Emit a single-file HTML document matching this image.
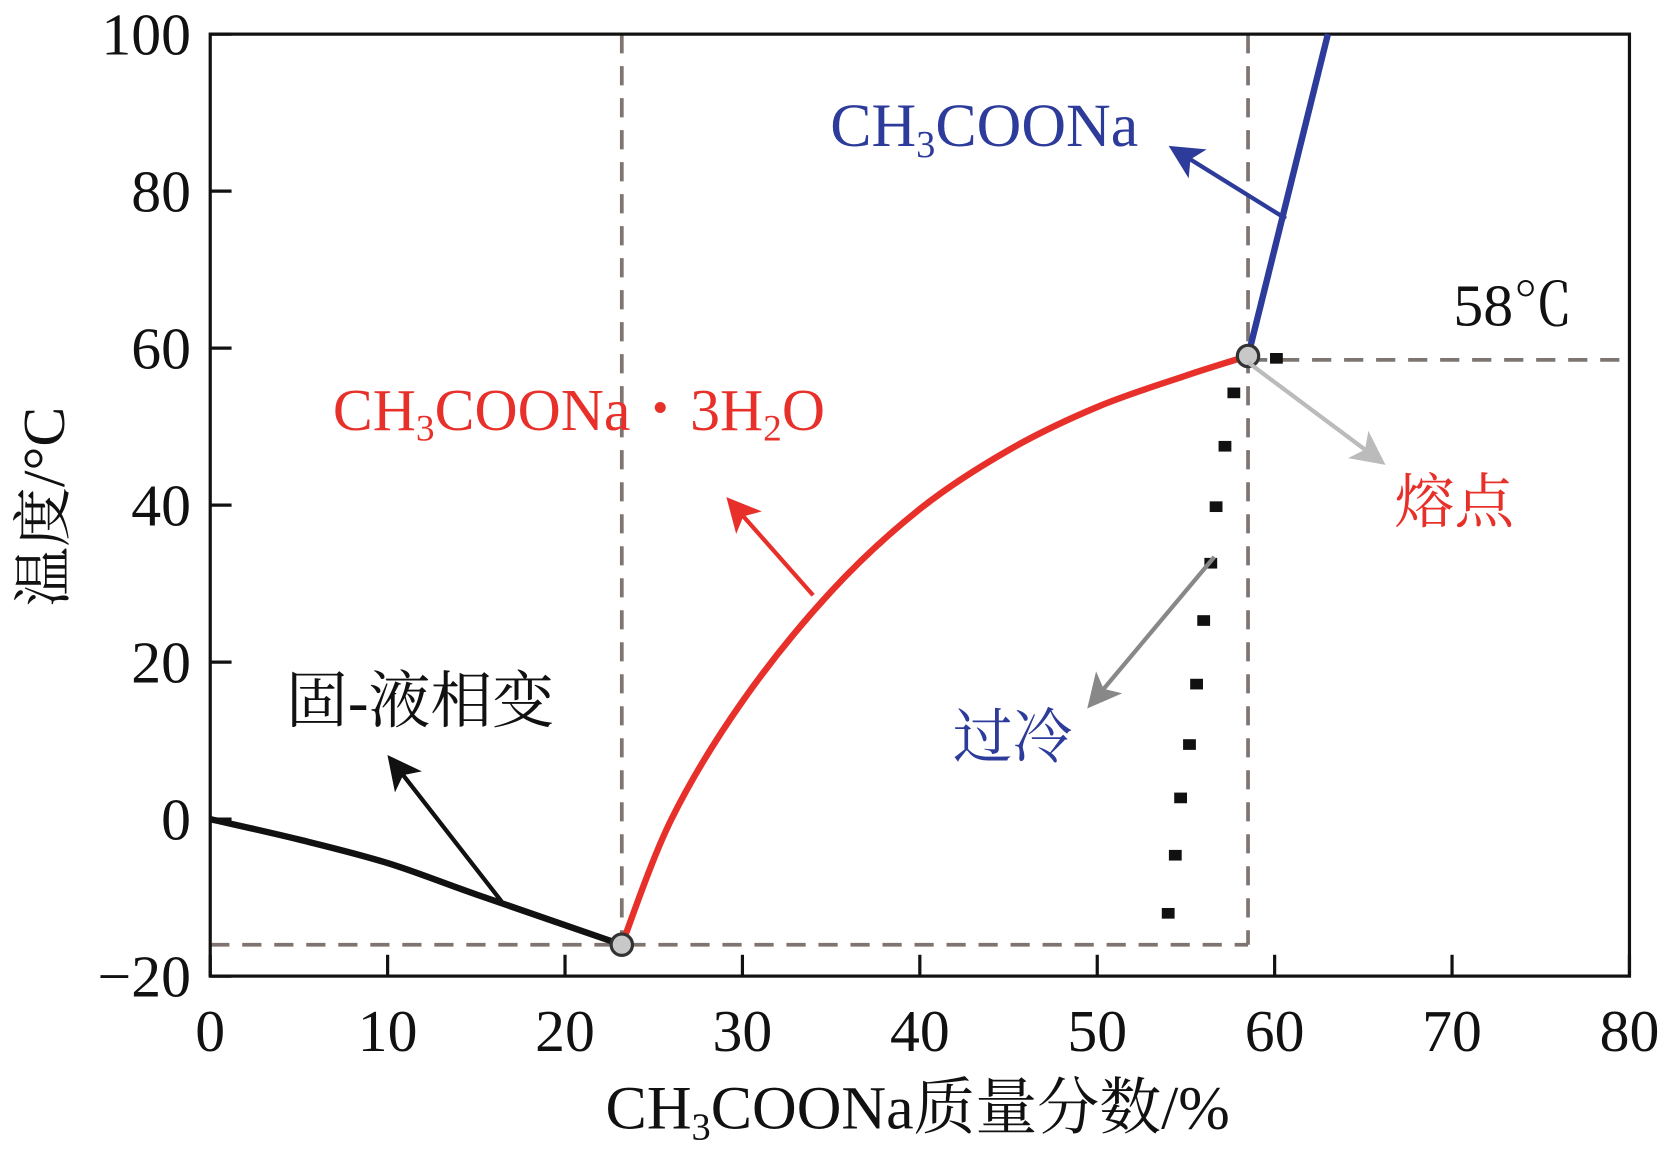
<!DOCTYPE html>
<html><head><meta charset="utf-8"><style>
html,body{margin:0;padding:0;background:#fff;width:1670px;height:1150px;overflow:hidden}
svg{display:block}
text{font-family:"Liberation Serif","Noto Serif CJK SC",serif}
</style></head><body>
<svg id="chart" width="1670" height="1150" viewBox="0 0 1565 1078" preserveAspectRatio="none" xmlns="http://www.w3.org/2000/svg">
<defs>
<marker id="ah-black" markerWidth="8" markerHeight="8" refX="6" refY="4" orient="auto" markerUnits="strokeWidth"><path d="M0,0 L8,4 L0,8 L2,4 Z" fill="#111"/></marker>
<marker id="ah-red" markerWidth="8" markerHeight="8" refX="6" refY="4" orient="auto" markerUnits="strokeWidth"><path d="M0,0 L8,4 L0,8 L2,4 Z" fill="#e8302a"/></marker>
<marker id="ah-blue" markerWidth="8" markerHeight="8" refX="6" refY="4" orient="auto" markerUnits="strokeWidth"><path d="M0,0 L8,4 L0,8 L2,4 Z" fill="#2d3b9a"/></marker>
<marker id="ah-grey" markerWidth="8" markerHeight="8" refX="6" refY="4" orient="auto" markerUnits="strokeWidth"><path d="M0,0 L8,4 L0,8 L2,4 Z" fill="#bbb"/></marker>
<marker id="ah-dgrey" markerWidth="8" markerHeight="8" refX="6" refY="4" orient="auto" markerUnits="strokeWidth"><path d="M0,0 L8,4 L0,8 L2,4 Z" fill="#888"/></marker>
</defs>
<g id="plot"></g>
</svg>
<script>
const xTicks=[0,10,20,30,40,50,60,70,80];
const yTicks=[-20,0,20,40,60,80,100];
const yTickLabels=["−20","0","20","40","60","80","100"];
const iceX=[0,5,10,15,23.2];
const iceY=[0,-2.6,-5.6,-9.6,-16];
const hydrateX=[23.2,26,30,35,40,45,50,55,58.5];
const hydrateY=[-16,0,15,29,39.5,47,52.5,56.5,59];
const anhydX=[58.5,63];
const anhydY=[59,100];
const superX=[54.0,54.4,54.7,55.2,55.6,56.0,56.4,56.7,57.2,57.7,60.1];
const superY=[-12.0,-4.6,2.7,9.5,17.2,25.3,32.6,39.8,47.5,54.3,58.7];
const eutectic=[23.2,-16];
const meltPoint=[58.5,59];

const L=197,R=1527,T=32,B=915;
const sx=v=>L+(v-0)/(80-0)*(R-L);
const sy=v=>B-(v+20)/(120)*(B-T);
const NS="http://www.w3.org/2000/svg";
const g=document.getElementById('plot');
function mk(tag,attrs,parent){const e=document.createElementNS(NS,tag);for(const k in attrs)e.setAttribute(k,attrs[k]);(parent||g).appendChild(e);return e;}
function path(xs,ys){return xs.map((x,i)=>(i?'L':'M')+sx(x).toFixed(1)+','+sy(ys[i]).toFixed(1)).join(' ');}
function smooth(xs,ys){const p=xs.map((x,i)=>[sx(x),sy(ys[i])]);let d='M'+p[0][0]+','+p[0][1];for(let i=0;i<p.length-1;i++){const p0=p[i-1]||p[i],p1=p[i],p2=p[i+1],p3=p[i+2]||p2;const c1=[p1[0]+(p2[0]-p0[0])/6,p1[1]+(p2[1]-p0[1])/6],c2=[p2[0]-(p3[0]-p1[0])/6,p2[1]-(p3[1]-p1[1])/6];d+=' C'+c1.join(',')+' '+c2.join(',')+' '+p2.join(',');}return d;}

const dash={stroke:'#7f7570','stroke-width':3.5,'stroke-dasharray':'18,12',fill:'none'};
let e;
e=mk('line',Object.assign({x1:sx(eutectic[0]),y1:T,x2:sx(eutectic[0]),y2:sy(eutectic[1])},dash));


e=mk('line',Object.assign({x1:sx(meltPoint[0]),y1:T,x2:sx(meltPoint[0]),y2:sy(eutectic[1])},dash));


e=mk('line',Object.assign({x1:L,y1:sy(eutectic[1]),x2:sx(meltPoint[0]),y2:sy(eutectic[1])},dash));


e=mk('line',Object.assign({x1:sx(meltPoint[0]),y1:sy(58.5),x2:R,y2:sy(58.5)},dash));



e=mk('rect',{x:L,y:T,width:R-L,height:B-T,fill:'none',stroke:'#111','stroke-width':3});


xTicks.forEach(v=>{
  e=mk('line',{x1:sx(v),y1:B,x2:sx(v),y2:B-20,stroke:'#111','stroke-width':3});
  
  
  e=mk('text',{x:sx(v),y:B+70,'text-anchor':'middle','font-size':56,fill:'#111'});
  e.textContent=v;
  
  
});
yTicks.forEach((v,i)=>{
  e=mk('line',{x1:L,y1:sy(v),x2:L+20,y2:sy(v),stroke:'#111','stroke-width':3});
  
  
  e=mk('text',{x:L-18,y:sy(v)+19,'text-anchor':'end','font-size':56,fill:'#111'});
  e.textContent=yTickLabels[i];
  
  
});

e=mk('path',{d:smooth(iceX,iceY),stroke:'#111','stroke-width':6,fill:'none'});


e=mk('path',{d:smooth(hydrateX,hydrateY),stroke:'#e8302a','stroke-width':6,fill:'none'});


e=mk('path',{d:path(anhydX,anhydY),stroke:'#2d3b9a','stroke-width':6,fill:'none'});


superX.forEach((x,i)=>{
  e=mk('rect',{x:sx(x)-6,y:sy(superY[i])-5,width:12,height:10,fill:'#111'});
  
  
});
[eutectic,meltPoint].forEach((p,i)=>{
  e=mk('circle',{cx:sx(p[0]),cy:sy(p[1]),r:10,fill:'#c8c8c8',stroke:'#333','stroke-width':3});
  
  
});
</script>
<svg width="1670" height="1150" viewBox="0 0 1565 1078" preserveAspectRatio="none" style="position:absolute;left:0;top:0" xmlns="http://www.w3.org/2000/svg">
<line x1="470" y1="845" x2="368" y2="714" stroke="#111" stroke-width="4" marker-end="url(#ah-black)"/>
<line x1="762" y1="558" x2="686" y2="472" stroke="#e8302a" stroke-width="4" marker-end="url(#ah-red)"/>
<line x1="1205" y1="205" x2="1102" y2="141" stroke="#2d3b9a" stroke-width="4" marker-end="url(#ah-blue)"/>
<line x1="1170" y1="340" x2="1292" y2="431" stroke="#bbb" stroke-width="4" marker-end="url(#ah-grey)"/>
<line x1="1138" y1="522" x2="1024" y2="658" stroke="#888" stroke-width="4" marker-end="url(#ah-dgrey)"/>
<text x="778" y="137" font-size="58" fill="#2d3b9a">CH<tspan font-size="36" dy="10">3</tspan><tspan dy="-10">COONa</tspan></text>
<text x="312" y="403" font-size="56" fill="#e8302a">CH<tspan font-size="35" dy="10">3</tspan><tspan dy="-10">COONa・3H</tspan><tspan font-size="35" dy="10">2</tspan><tspan dy="-10">O</tspan></text>
<text x="268" y="677" font-size="58" fill="#111">固-液相变</text>
<text x="893" y="710" font-size="56" fill="#2d3b9a">过冷</text>
<text x="1307" y="490" font-size="56" fill="#e8302a">熔点</text>
<text x="1362" y="305" font-size="56" fill="#111">58℃</text>
<text x="860" y="1058" font-size="58" text-anchor="middle" fill="#111">CH<tspan font-size="36" dy="10">3</tspan><tspan dy="-10">COONa质量分数/%</tspan></text>
<text transform="translate(60,475) rotate(-90)" font-size="56" text-anchor="middle" fill="#111">温度/°C</text>
</svg>
</body></html>
